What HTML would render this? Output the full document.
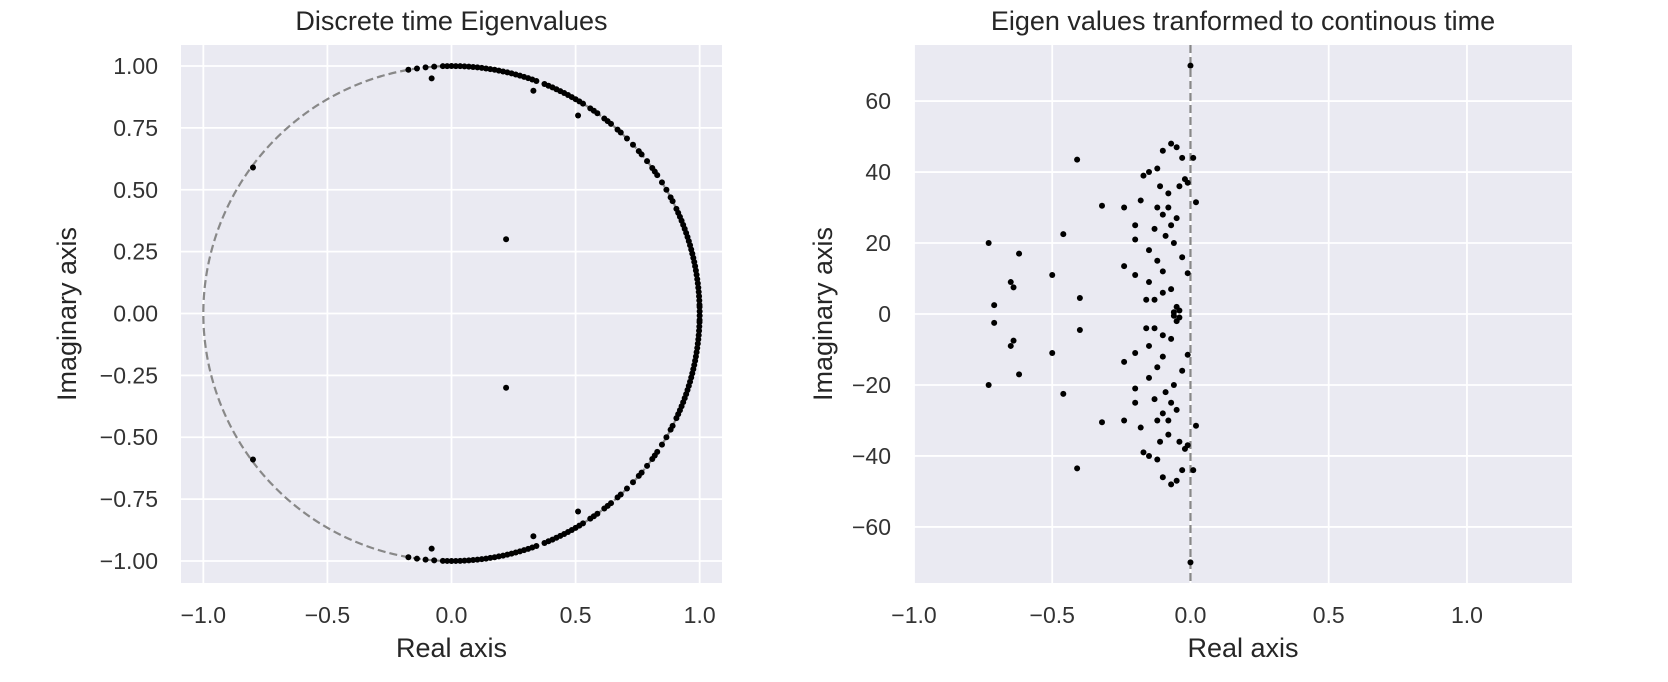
<!DOCTYPE html>
<html><head><meta charset="utf-8"><style>
html,body{margin:0;padding:0;background:#fff;}
svg{display:block;font-family:"Liberation Sans",sans-serif;}
</style></head><body>
<svg id="c" width="1668" height="682" xmlns="http://www.w3.org/2000/svg"></svg>
<script>
// Left chart data: angles (deg) of points on unit circle (upper half, mirrored)
const circleAnglesDeg = [0.5,1.5,2,3,4,5,6,7,8,9,10,11,12,13,14,15,16,17,18,19,20,21,22,23,24,25,27,28,30,32,34,35,36,38,40,41,43,45,47,48,50,51,52,54,55,56,58,59,60,61,62,63,64,65,66,67,68,70,71,72,73,74,75,76,77,78,79,80,81,82,83,84,85,86,87,88,89,90,91,92,94,96,98,100];
const offCircleRe = [-0.08,0.33,0.51,0.22,-0.80];
const offCircleIm = [0.95,0.90,0.80,0.30,0.59];
// Right chart data (upper half, mirrored)
const ctRe = [-0.73,-0.71,-0.62,-0.65,-0.64,-0.50,-0.46,-0.41,-0.40,-0.32,-0.24,-0.24,-0.20,-0.20,-0.18,-0.17,-0.15,-0.12,-0.10,-0.07,-0.05,-0.03,0.01,0.02,0.00,-0.01,-0.02,-0.05,-0.08,-0.10,-0.13,-0.15,-0.12,-0.10,-0.15,-0.13,-0.10,-0.07,-0.05,-0.06,-0.04,-0.01,-0.03,-0.06,-0.08,-0.11,-0.16,-0.20,-0.07,-0.04,-0.09,-0.12];
const ctIm = [20,2.5,17,9,7.5,11,22.5,43.5,4.5,30.5,30,13.5,21,25,32,39,40,41,46,48,47,44,44,31.5,70,37,38,27,34,28,24,18,15,12,9,4,6,7,2,0.5,1,11.5,16,20,30,36,4,11,25,36,22,30];
const leftXTicks = [-1.0,-0.5,0.0,0.5,1.0];
const leftYTicks = [1.0,0.75,0.5,0.25,0,-0.25,-0.5,-0.75,-1.0];
const rightXTicks = [-1.0,-0.5,0.0,0.5,1.0];
const rightYTicks = [60,40,20,0,-20,-40,-60];

const NS="http://www.w3.org/2000/svg";
const svg=document.getElementById('c');
function mk(tag,attrs,parent){const e=document.createElementNS(NS,tag);for(const k in attrs)e.setAttribute(k,attrs[k]);(parent||svg).appendChild(e);return e;}
function fmt(v,d){return (v<0?'\u2212':'')+Math.abs(v).toFixed(d);}

function panel(o){
  const g=mk('g',{});
  
  
  const sx=v=>o.x0+(v-o.xmin)/(o.xmax-o.xmin)*(o.x1-o.x0);
  const sy=v=>o.y1-(v-o.ymin)/(o.ymax-o.ymin)*(o.y1-o.y0);
  const bg=mk('rect',{x:o.x0,y:o.y0,width:o.x1-o.x0,height:o.y1-o.y0,fill:'#eaeaf2'},g);
  
  
  o.xt.forEach(t=>{
    const l=mk('line',{x1:sx(t),x2:sx(t),y1:o.y0,y2:o.y1,stroke:'#fff','stroke-width':1.8},g);
    
    
    const tx=mk('text',{x:sx(t),y:o.y1+40,'text-anchor':'middle','font-size':23,fill:'#333'},g);
    tx.textContent=fmt(t,1);
    
    
  });
  o.yt.forEach(t=>{
    const l=mk('line',{x1:o.x0,x2:o.x1,y1:sy(t),y2:sy(t),stroke:'#fff','stroke-width':1.8},g);
    
    
    const tx=mk('text',{x:o.ylx,y:sy(t)+8,'text-anchor':'end','font-size':23,fill:'#333'},g);
    tx.textContent=fmt(t,o.yd);
    
    
  });
  const ti=mk('text',{x:(o.x0+o.x1)/2,y:30,'text-anchor':'middle','font-size':27,fill:'#262626'},g);
  ti.textContent=o.title;
  
  
  const xl=mk('text',{x:(o.x0+o.x1)/2,y:657,'text-anchor':'middle','font-size':27,fill:'#262626'},g);
  xl.textContent='Real axis';
  
  
  const yx=o.yLabelX, yy=(o.y0+o.y1)/2;
  const yl=mk('text',{x:yx,y:yy,'text-anchor':'middle','font-size':27,fill:'#262626',transform:`rotate(-90 ${yx} ${yy})`},g);
  yl.textContent='Imaginary axis';
  
  
  return {g,sx,sy};
}

function dot(g,x,y){
  const c=mk('circle',{cx:x,cy:y,r:3,fill:'#000'},g);
  
  
}

// Left panel
const L=panel({name:'discrete-time-panel',x0:181,x1:722,y0:45,y1:583,xmin:-1.09,xmax:1.09,ymin:-1.089,ymax:1.085,xt:leftXTicks,yt:leftYTicks,yd:2,ylx:158,yLabelX:76,title:'Discrete time Eigenvalues'});
const circ=mk('ellipse',{cx:L.sx(0),cy:L.sy(0),rx:L.sx(1)-L.sx(0),ry:L.sy(0)-L.sy(1),fill:'none',stroke:'#888','stroke-width':2.2,'stroke-dasharray':'8,4'},L.g);


circleAnglesDeg.forEach(a=>{
  const r=a*Math.PI/180;
  [1,-1].forEach(s=>dot(L.g,L.sx(Math.cos(r)),L.sy(s*Math.sin(r))));
});
offCircleRe.forEach((re,i)=>{[1,-1].forEach(s=>dot(L.g,L.sx(re),L.sy(s*offCircleIm[i])));});

// Right panel
const R=panel({name:'continuous-time-panel',x0:914,x1:1572,y0:45,y1:583,xmin:-1.0,xmax:1.38,ymin:-75.8,ymax:75.8,xt:rightXTicks,yt:rightYTicks,yd:0,ylx:891,yLabelX:832,title:'Eigen values tranformed to continous time'});
const vl=mk('line',{x1:R.sx(0),x2:R.sx(0),y1:45,y2:583,stroke:'#888','stroke-width':2.2,'stroke-dasharray':'8,4'},R.g);


ctRe.forEach((re,i)=>{[1,-1].forEach(s=>dot(R.g,R.sx(re),R.sy(s*ctIm[i])));});
</script>
</body></html>
